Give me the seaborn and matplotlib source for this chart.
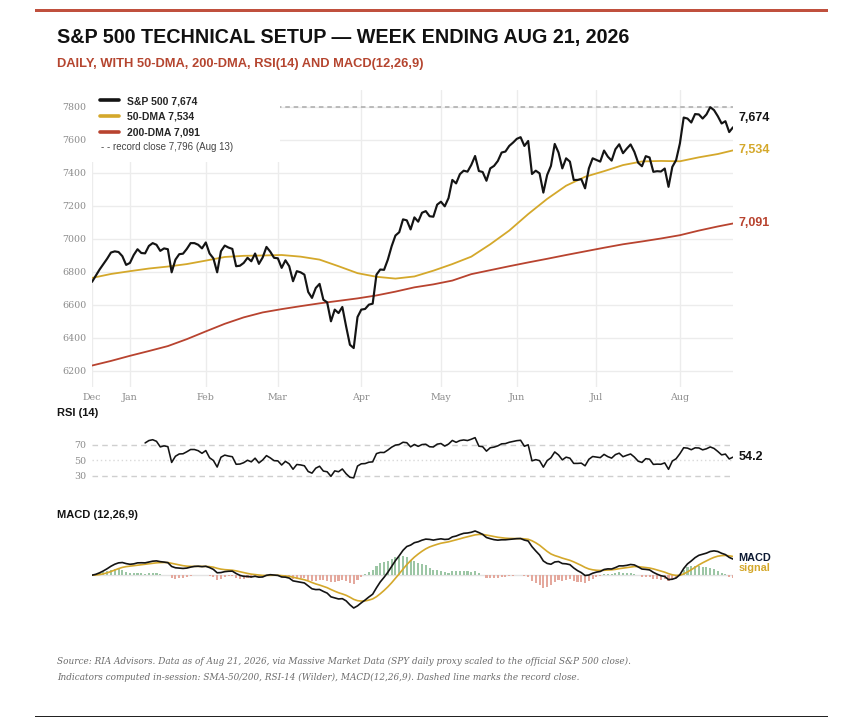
import numpy as np
import pandas as pd
import matplotlib
matplotlib.use("Agg")
import matplotlib.pyplot as plt
import seaborn as sns
from matplotlib.patches import Rectangle

# ------------------------------------------------------------------ data
START_DATE = "2025-12-17"
END_DATE = "2026-08-21"
MARKET_HOLIDAYS = ["2025-12-25", "2026-01-01", "2026-01-19", "2026-02-16",
                   "2026-04-03", "2026-05-25", "2026-06-19", "2026-07-03"]

SPX_CLOSE = [
    6737, 6775, 6812, 6845, 6878, 6915, 6922, 6918, 6893, 6840,
    6852, 6900, 6935, 6912, 6910, 6955, 6972, 6962, 6925, 6940,
    6935, 6795, 6872, 6905, 6908, 6937, 6972, 6972, 6962, 6940,
    6976, 6909, 6880, 6795, 6923, 6957, 6945, 6937, 6832, 6835,
    6852, 6883, 6862, 6909, 6846, 6885, 6949, 6920, 6883, 6880,
    6822, 6868, 6832, 6741, 6802, 6795, 6781, 6676, 6640, 6700,
    6725, 6629, 6613, 6498, 6569, 6548, 6585, 6467, 6356, 6336,
    6524, 6569, 6573, 6599, 6605, 6781, 6812, 6810, 6872, 6953,
    7018, 7038, 7116, 7110, 7055, 7128, 7102, 7156, 7166, 7135,
    7132, 7205, 7223, 7195, 7245, 7355, 7334, 7390, 7411, 7405,
    7446, 7500, 7409, 7403, 7350, 7425, 7440, 7470, 7521, 7527,
    7561, 7581, 7604, 7614, 7561, 7591, 7391, 7411, 7395, 7278,
    7385, 7440, 7573, 7521, 7425, 7486, 7466, 7355, 7355, 7360,
    7304, 7425, 7486, 7476, 7466, 7533, 7496, 7472, 7541, 7571,
    7517, 7545, 7570, 7525, 7459, 7438, 7499, 7491, 7404, 7408,
    7406, 7424, 7313, 7434, 7475, 7576, 7733, 7727, 7703, 7754,
    7752, 7727, 7752, 7796, 7778, 7741, 7697, 7711, 7645, 7674,
]

# moving averages every 5 sessions (they need history before Dec)
DMA_SAMPLE_DAYS = [0, 5, 10, 15, 20, 25, 30, 35, 40, 45, 50, 55, 60, 65, 70, 75, 80, 85,
                   90, 95, 100, 105, 110, 115, 120, 125, 130, 135, 140, 145, 150, 155,
                   160, 165, 169]
DMA50 = [6761, 6785, 6802, 6818, 6830, 6845, 6866, 6888, 6895, 6897, 6900, 6890,
         6872, 6832, 6790, 6768, 6757, 6770, 6805, 6845, 6890, 6965, 7048, 7148,
         7240, 7320, 7374, 7408, 7445, 7467, 7470, 7468, 7492, 7512, 7534]
DMA200 = [6230, 6258, 6289, 6318, 6348, 6390, 6437, 6483, 6522, 6552, 6572, 6590,
          6607, 6622, 6637, 6655, 6678, 6704, 6722, 6745, 6784, 6808, 6832, 6855,
          6877, 6900, 6922, 6944, 6965, 6982, 7000, 7020, 7048, 7073, 7091]

RECORD_CLOSE = 7796
RECORD_DATE_LABEL = "Aug 13"
RSI_LAST_LABEL = 54.2

PRICE_TICKS = [6200, 6400, 6600, 6800, 7000, 7200, 7400, 7600, 7800]
RSI_TICKS = [30, 50, 70]

TITLE = "S&P 500 TECHNICAL SETUP \u2014 WEEK ENDING AUG 21, 2026"
SUBTITLE = "DAILY, WITH 50-DMA, 200-DMA, RSI(14) AND MACD(12,26,9)"
FOOT1 = ("Source: RIA Advisors. Data as of Aug 21, 2026, via Massive Market Data "
         "(SPY daily proxy scaled to the official S&P 500 close).")
FOOT2 = ("Indicators computed in-session: SMA-50/200, RSI-14 (Wilder), "
         "MACD(12,26,9). Dashed line marks the record close.")

# ------------------------------------------------------------------ derived
dates = pd.bdate_range(START_DATE, END_DATE, freq="C", holidays=MARKET_HOLIDAYS)
close = np.asarray(SPX_CLOSE, dtype=float)
n = len(close)
idx = np.arange(n)

month_starts = [0] + [i for i in range(1, n) if dates[i].month != dates[i - 1].month]
month_labels = [dates[i].strftime("%b") for i in month_starts]


def wilder_rsi(c, period=14):
    d = np.diff(c)
    g = np.clip(d, 0, None)
    l = np.clip(-d, 0, None)
    out = np.full(len(c), np.nan)
    ag, al = g[:period].mean(), l[:period].mean()
    out[period] = 100 - 100 / (1 + ag / al)
    for i in range(period + 1, len(c)):
        ag = (ag * (period - 1) + g[i - 1]) / period
        al = (al * (period - 1) + l[i - 1]) / period
        out[i] = 100 - 100 / (1 + ag / al)
    return out


rsi = wilder_rsi(close)
s = pd.Series(close)
macd = (s.ewm(span=12, adjust=False).mean() - s.ewm(span=26, adjust=False).mean()).to_numpy()
signal = pd.Series(macd).ewm(span=9, adjust=False).mean().to_numpy()
hist = macd - signal

# ------------------------------------------------------------------ style
BLACK = "#141414"
GOLD = "#d4a82b"
RED = "#b8432f"
GRID = "#ececec"
TICK = "#8c8c8c"
SANS = ["Liberation Sans", "DejaVu Sans"]

sns.set_theme(style="white")
plt.rcParams["font.family"] = ["DejaVu Serif"]

W, H = 867, 728
fig = plt.figure(figsize=(W / 100, H / 100), dpi=100)
fig.patch.set_facecolor("white")


def axes_px(left, top, right, bottom):
    return fig.add_axes([left / W, 1 - bottom / H, (right - left) / W, (bottom - top) / H])


ax = axes_px(92, 90, 733, 387)
ax_rsi = axes_px(92, 430, 733, 486)
ax_macd = axes_px(92, 522, 733, 618)

for a in (ax, ax_rsi, ax_macd):
    for sp in a.spines.values():
        sp.set_visible(False)
    a.set_xlim(0, n - 1)
    a.tick_params(length=0, labelsize=6.8, colors=TICK)

# ---- main price panel
ax.axhline(RECORD_CLOSE, color="#aaaaaa", lw=1.1, ls=(0, (3, 2.5)), zorder=1.5)
sns.lineplot(x=DMA_SAMPLE_DAYS, y=DMA200, ax=ax, color=RED, lw=1.3,
             label=f"200-DMA {DMA200[-1]:,.0f}", zorder=2)
sns.lineplot(x=DMA_SAMPLE_DAYS, y=DMA50, ax=ax, color=GOLD, lw=1.3,
             label=f"50-DMA {DMA50[-1]:,.0f}", zorder=2)
sns.lineplot(x=idx, y=close, ax=ax, color=BLACK, lw=1.55,
             label=f"S&P 500 {close[-1]:,.0f}", zorder=3)
ax.set_xlim(0, n - 1)
ax.set_ylim(6100, 7900)
ax.set_yticks(PRICE_TICKS)
ax.set_yticklabels([str(v) for v in PRICE_TICKS])
ax.set_xticks(month_starts)
ax.set_xticklabels(month_labels)
ax.tick_params(axis="y", pad=4)
ax.tick_params(axis="x", pad=4)
ax.grid(True, color=GRID, lw=1)
ax.set_axisbelow(True)
ax.set_xlabel("")
ax.set_ylabel("")

# legend box (opaque white) in the top-left
ax.add_patch(Rectangle((0, 1 - 72 / 297), 188 / 641, 72 / 297, transform=ax.transAxes,
                       facecolor="white", edgecolor="none", zorder=4))
handles, labels = ax.get_legend_handles_labels()
order = [2, 1, 0]
leg = ax.legend([handles[i] for i in order], [labels[i] for i in order],
                loc="upper left", bbox_to_anchor=(8 / 641, 1 - 6 / 297),
                frameon=False, borderpad=0, borderaxespad=0,
                handlelength=1.8, handletextpad=0.75, labelspacing=0.55,
                prop={"family": SANS, "weight": "bold", "size": 7.5})
leg.set_zorder(5)
for h in leg.legend_handles:
    h.set_linewidth(2.6)
ax.text(9 / 641, 1 - 57 / 297, f"- - record close {RECORD_CLOSE:,.0f} ({RECORD_DATE_LABEL})",
        transform=ax.transAxes, ha="left", va="center", fontsize=7, color="#444444",
        family=SANS, zorder=6)

lab_kw = dict(xycoords="data", textcoords="offset points", ha="left", va="center",
              fontsize=9, fontweight="bold", family=SANS, annotation_clip=False)
ax.annotate(f"{close[-1]:,.0f}", xy=(idx[-1], close[-1]), xytext=(4, 7), color=BLACK, **lab_kw)
ax.annotate(f"{DMA50[-1]:,.0f}", xy=(DMA_SAMPLE_DAYS[-1], DMA50[-1]), xytext=(4, 0), color=GOLD, **lab_kw)
ax.annotate(f"{DMA200[-1]:,.0f}", xy=(DMA_SAMPLE_DAYS[-1], DMA200[-1]), xytext=(4, 0), color=RED, **lab_kw)

# ---- RSI panel
for lvl, st, col in ((70, (0, (4, 3)), "#cfcfcf"), (30, (0, (4, 3)), "#cfcfcf"), (50, (0, (1, 2)), "#d9d9d9")):
    ax_rsi.axhline(lvl, color=col, lw=1, ls=st, zorder=1)
sns.lineplot(x=idx, y=rsi, ax=ax_rsi, color=BLACK, lw=1.15, zorder=3)
ax_rsi.set_xlim(0, n - 1)
ax_rsi.set_ylim(17, 89)
ax_rsi.set_yticks(RSI_TICKS)
ax_rsi.set_yticklabels([str(v) for v in RSI_TICKS])
ax_rsi.set_xticks([])
ax_rsi.tick_params(axis="y", pad=4)
ax_rsi.set_xlabel("")
ax_rsi.set_ylabel("")
ax_rsi.annotate(f"{RSI_LAST_LABEL:.1f}", xy=(idx[-1], rsi[-1]), xytext=(4, 0), color=BLACK, **lab_kw)

# ---- MACD panel
ax_macd.axhline(0, color="#e3e3e3", lw=1, zorder=0.5)
sign = np.where(hist >= 0, "pos", "neg")
sns.barplot(x=idx, y=hist, hue=sign, palette={"pos": "#9cc6a5", "neg": "#e4a89d"},
            native_scale=True, dodge=False, width=0.55, legend=False, errorbar=None,
            saturation=1, linewidth=0, ax=ax_macd, zorder=1)
sns.lineplot(x=idx, y=signal, ax=ax_macd, color=GOLD, lw=1.2, zorder=3)
sns.lineplot(x=idx, y=macd, ax=ax_macd, color=BLACK, lw=1.2, zorder=4)
lo, hi = np.nanmin(macd), np.nanmax(macd)
k = (608 - 531) / (hi - lo)
ax_macd.set_ylim(lo - 10 / k, hi + 9 / k)
ax_macd.set_xlim(0, n - 1)
ax_macd.set_xticks([])
ax_macd.set_yticks([])
ax_macd.set_xlabel("")
ax_macd.set_ylabel("")
small_kw = dict(lab_kw, fontsize=7.8)
ax_macd.annotate("MACD", xy=(idx[-1], macd[-1]), xytext=(4, 1), color="#0d1a33", **small_kw)
ax_macd.annotate("signal", xy=(idx[-1], macd[-1]), xytext=(4, -6.5), color=GOLD, **small_kw)

# ---- panel titles
fig.text(57 / W, 1 - 413 / H, "RSI (14)", ha="left", va="center", fontsize=8,
         fontweight="bold", family=SANS, color=BLACK)
fig.text(57 / W, 1 - 515 / H, "MACD (12,26,9)", ha="left", va="center", fontsize=8,
         fontweight="bold", family=SANS, color=BLACK)

# ---- header / footer texts fitted to the widths seen in the reference
fig.canvas.draw()
renderer = fig.canvas.get_renderer()


def fit_text(x_px, base_px, txt, width_px, **kw):
    t = fig.text(x_px / W, 1 - base_px / H, txt, ha="left", va="baseline", **kw)
    w = t.get_window_extent(renderer).width
    t.set_fontsize(t.get_fontsize() * width_px / w)
    return t


fit_text(57, 43, TITLE, 573, fontsize=14, fontweight="bold", family=SANS, color="#111111")
fit_text(57, 67, SUBTITLE, 368, fontsize=9, fontweight="bold", family=SANS, color="#b5452f")
fit_text(57, 664, FOOT1, 573, fontsize=7, style="italic", family=["DejaVu Serif"], color="#6b6b6b")
fit_text(57, 680.5, FOOT2, 524, fontsize=7, style="italic", family=["DejaVu Serif"], color="#6b6b6b")

# top rule and bottom rule
fig.add_artist(Rectangle((35 / W, 1 - 12 / H), (828 - 35) / W, 3.5 / H, transform=fig.transFigure,
                         facecolor="#c0503e", edgecolor="none"))
fig.add_artist(Rectangle((35 / W, 1 - 717 / H), (828 - 35) / W, 1.4 / H, transform=fig.transFigure,
                         facecolor="#222222", edgecolor="none"))

fig.savefig("out.png", dpi=100, facecolor="white")
